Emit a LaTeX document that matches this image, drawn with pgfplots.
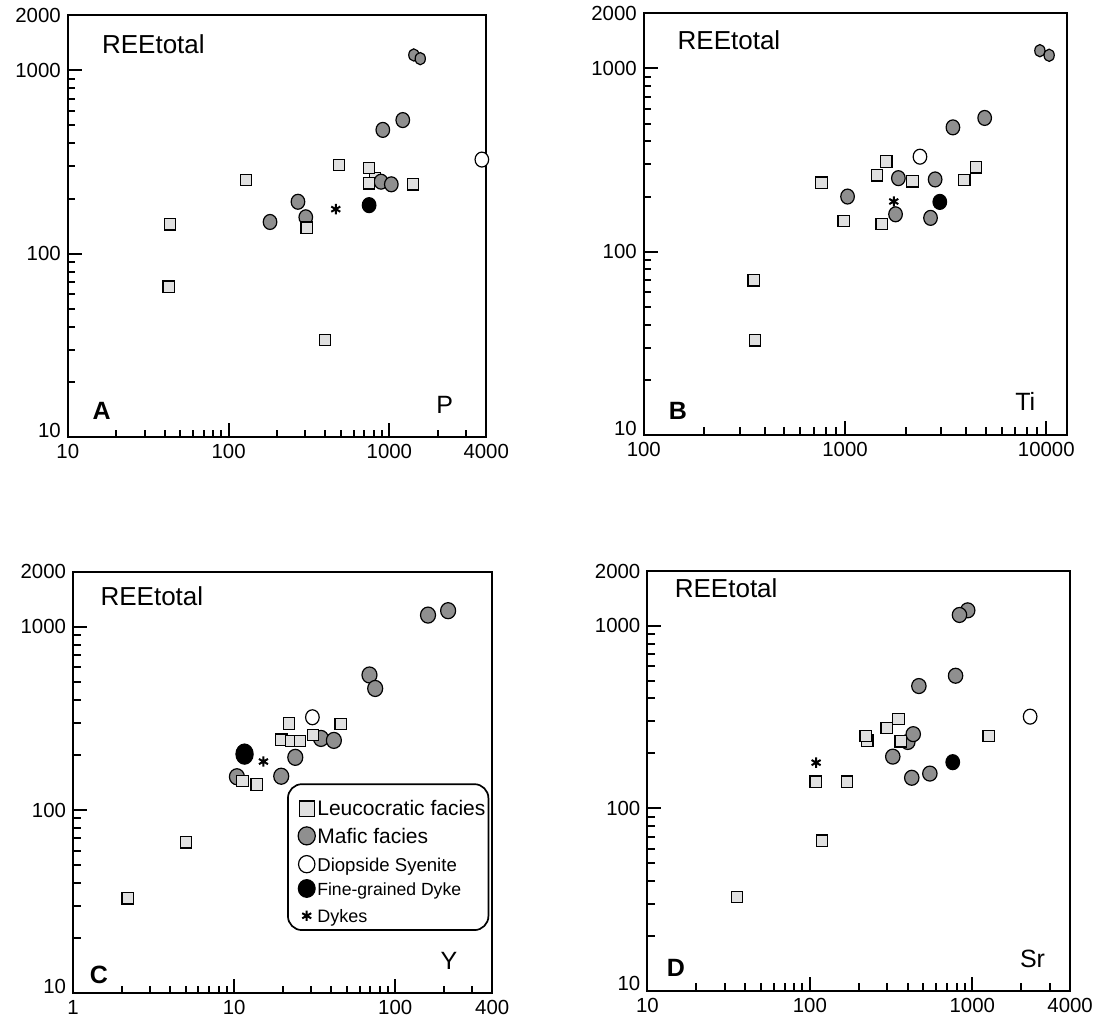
\documentclass[border=0pt]{standalone}
\usepackage{fontspec}
\setmainfont{Liberation Sans}
\usepackage{pgfplots}
\pgfplotsset{compat=1.18}
\definecolor{sqfill}{gray}{0.88}
\definecolor{cfill}{gray}{0.56}
\pgfplotsset{
  every axis/.append style={
    scale only axis, anchor=south west, clip=false,
    ymin=10, ymax=2000,
    axis line style={line width=1pt},
    tick style={line width=1pt, black},
    major tick length=7pt, minor tick length=3.8pt,
    tick align=inside, xtick pos=bottom, ytick pos=left,
    ytick={100,1000,2000}, yticklabels={100,1000,2000},
    extra y ticks={10}, extra y tick labels={10},
    extra y tick style={yticklabel style={yshift=3.5pt}},
    minor ytick={20,30,40,50,60,70,80,90,200,300,400,500,600,700,800,900},
    tick label style={font=\fontsize{10.2}{12}\selectfont},
  },
  sq/.style={only marks, mark=square*, mark size=2.85pt, mark options={fill=sqfill, draw=black, line width=0.6pt}},
  ci/.style={only marks, mark=*, mark size=3.4pt, mark options={fill=cfill, draw=black, line width=0.6pt, yscale=1.1}},
  ciC/.style={only marks, mark=*, mark size=3.75pt, mark options={fill=cfill, draw=black, line width=0.6pt, yscale=1.07}},
  ciD/.style={only marks, mark=*, mark size=3.6pt, mark options={fill=cfill, draw=black, line width=0.6pt, yscale=1.04}},
  cismall/.style={only marks, mark=*, mark size=2.55pt, mark options={fill=cfill, draw=black, line width=0.6pt, yscale=1.2}},
  wh/.style={only marks, mark=*, mark size=3.4pt, mark options={fill=white, draw=black, line width=0.6pt, yscale=1.1}},
  bl/.style={only marks, mark=*, mark size=3.4pt, mark options={fill=black, draw=black, line width=0.6pt, yscale=1.1}},
  blC/.style={only marks, mark=*, mark size=4.3pt, mark options={fill=black, draw=black, line width=0.6pt, yscale=1.17}},
  ast/.style={only marks, mark=asterisk, mark size=2.6pt, mark options={draw=black, line width=1pt}},
}
\newcommand{\reelabel}[2]{\node[anchor=base west, font=\fontsize{13}{15}\selectfont, xshift=#1, yshift=#2] at (rel axis cs:0,1) {REEtotal};}
\begin{document}
\begin{tikzpicture}
\useasboundingbox (0pt,0pt) rectangle (557.5pt,508.5pt);
% ---------------- A ----------------
\begin{axis}[xmode=log, ymode=log, at={(33.9pt,289.85pt)}, width=209.2pt, height=211.15pt,
  xmin=10, xmax=4000, xtick={10,100,1000,4000}, xticklabels={10,100,1000,4000},
  minor xtick={20,30,40,50,60,70,80,90,200,300,400,500,600,700,800,900,2000,3000}]
\addplot[sq, forget plot] coordinates {(813,259)};
\addplot[ci, forget plot] coordinates {(1211,535) (910,473) (887,247) (1028,239) (270,192) (302,158) (181,149)};
\addplot[cismall, forget plot] coordinates {(1419,1211) (1556,1156)};
\addplot[sq, forget plot] coordinates {(43.3,144.7) (42.4,66.2) (128,252) (306,138.7) (485,305) (748,294) (748,242) (1403,239) (397,33.9)};
\addplot[wh, forget plot] coordinates {(3758,326)};
\addplot[bl, forget plot] coordinates {(748,184)};
\addplot[ast, forget plot] coordinates {(464,175)};
\reelabel{13.6pt}{-19.2pt}
\node[anchor=base west, font=\fontsize{12.5}{14}\selectfont\bfseries, xshift=8.9pt, yshift=8.7pt] at (rel axis cs:0,0) {A};
\node[anchor=base east, font=\fontsize{12.5}{14}\selectfont, xshift=-13pt, yshift=12pt] at (rel axis cs:1,0) {P};
\end{axis}
% ---------------- B ----------------
\begin{axis}[xmode=log, ymode=log, at={(321.9pt,291pt)}, width=211.35pt, height=210.85pt,
  xmin=100, xmax=12600, xtick={100,1000,10000}, xticklabels={100,1000,10000},
  minor xtick={200,300,400,500,600,700,800,900,2000,3000,4000,5000,6000,7000,8000,9000}]
\addplot[ci, forget plot] coordinates {(4940,537) (3435,477) (2803,248) (1841,252) (1029,200) (1782,160) (2659,153)};
\addplot[cismall, forget plot] coordinates {(9290,1250) (10330,1180)};
\addplot[sq, forget plot] coordinates {(764,238) (984,147) (1439,261) (1603,311) (1521,142) (2163,242) (3917,246) (4477,289) (352,69.8) (357,32.9)};
\addplot[wh, forget plot] coordinates {(2356,330)};
\addplot[bl, forget plot] coordinates {(2957,187)};
\addplot[ast, forget plot] coordinates {(1746,188)};
\reelabel{13.4pt}{-18.3pt}
\node[anchor=base west, font=\fontsize{12.5}{14}\selectfont\bfseries, xshift=9pt, yshift=7.8pt] at (rel axis cs:0,0) {B};
\node[anchor=base east, font=\fontsize{12.5}{14}\selectfont, xshift=-12.1pt, yshift=12.2pt] at (rel axis cs:1,0) {Ti};
\end{axis}
% ---------------- C ----------------
\begin{axis}[xmode=log, ymode=log, at={(36.55pt,11.85pt)}, width=209.55pt, height=210.8pt,
  xmin=1, xmax=400, xtick={1,10,100,400}, xticklabels={1,10,100,400},
  minor xtick={2,3,4,5,6,7,8,9,20,30,40,50,60,70,80,90,200,300},
  legend cell align=left,
  legend style={at={(rel axis cs:0.993,0.498)}, anchor=north east, draw=black, line width=0.85pt,
    rounded corners=7pt, inner xsep=0.5pt, inner ysep=1pt, row sep=0pt, column sep=0pt,
    cells={anchor=base west},
    nodes={inner xsep=1pt, inner ysep=0pt, text depth=2.55pt}},
  legend image code/.code={\path[draw=none, fill=none] (0pt,0pt) -- (13.2pt,0pt); \draw[sharp corners,#1] plot coordinates {(8.9pt,3.6pt)};}]
\addplot[ciC, forget plot] coordinates {(213,1225) (159.8,1159) (69.2,546) (75.1,461) (34.6,246) (41.6,240) (23.96,194) (19.6,153) (10.4,152)};
\addplot[sq, forget plot] coordinates {(2.18,33.0) (5.03,66.7) (11.27,144) (13.8,138) (19.7,242) (21.9,297) (22.5,238) (25.7,238) (30.9,257) (45.8,295)};
\addplot[wh, forget plot] coordinates {(30.6,321)};
\addplot[blC, forget plot] coordinates {(11.6,202)};
\addplot[ast, forget plot] coordinates {(15.2,184)};
\addlegendimage{mark=square*, mark size=3.8pt, mark options={fill=sqfill, draw=black, line width=0.6pt}}
\addlegendentry[font=\fontsize{10.5}{12}\selectfont, text height=14.8pt]{Leucocratic facies}
\addlegendimage{mark=*, mark size=4.3pt, mark options={fill=cfill, draw=black, line width=0.6pt, yscale=1.05}}
\addlegendentry[font=\fontsize{10.5}{12}\selectfont, text height=11.1pt]{Mafic facies}
\addlegendimage{mark=*, mark size=4.1pt, mark options={fill=white, draw=black, line width=0.6pt, yscale=1.05}}
\addlegendentry[font=\fontsize{9.3}{11}\selectfont, text height=11.6pt]{Diopside Syenite}
\addlegendimage{mark=*, mark size=4.2pt, mark options={fill=black, draw=black, line width=0.6pt, yscale=1.05}}
\addlegendentry[font=\fontsize{8.8}{11}\selectfont, text height=9.6pt]{Fine-grained Dyke}
\addlegendimage{mark=asterisk, mark size=2.6pt, mark options={draw=black, line width=1pt}}
\addlegendentry[font=\fontsize{9}{11}\selectfont, text height=11.1pt]{Dykes}
\reelabel{10.2pt}{-16.7pt}
\node[anchor=base west, font=\fontsize{12.5}{14}\selectfont\bfseries, xshift=4.8pt, yshift=5pt] at (rel axis cs:0,0) {C};
\node[anchor=base east, font=\fontsize{12.5}{14}\selectfont, xshift=-13.9pt, yshift=11.7pt] at (rel axis cs:1,0) {Y};
\end{axis}
% ---------------- D ----------------
\begin{axis}[xmode=log, ymode=log, at={(323.7pt,13.15pt)}, width=211.35pt, height=209.85pt,
  xmin=10, xmax=4000, xtick={10,100,1000,4000}, xticklabels={10,100,1000,4000},
  minor xtick={20,30,40,50,60,70,80,90,200,300,400,500,600,700,800,900,2000,3000}]
\addplot[ciD, forget plot] coordinates {(937,1217) (834,1148) (789,533) (469,468) (401,231) (433,255) (324,192) (424,147) (548,155)};
\addplot[sq, forget plot] coordinates {(35.7,32.6) (118.6,66.4) (108.6,140) (168.9,140) (226,235) (221,249) (297,275) (351,308) (362,233) (1262,249)};
\addplot[wh, forget plot] coordinates {(2270,318)};
\addplot[bl, forget plot] coordinates {(758,179)};
\addplot[ast, forget plot] coordinates {(109.3,178)};
\reelabel{10.2pt}{-13.2pt}
\node[anchor=base west, font=\fontsize{12.5}{14}\selectfont\bfseries, xshift=6.2pt, yshift=7pt] at (rel axis cs:0,0) {D};
\node[anchor=base east, font=\fontsize{12.5}{14}\selectfont, xshift=-9pt, yshift=11.7pt] at (rel axis cs:1,0) {Sr};
\end{axis}
\end{tikzpicture}
\end{document}
